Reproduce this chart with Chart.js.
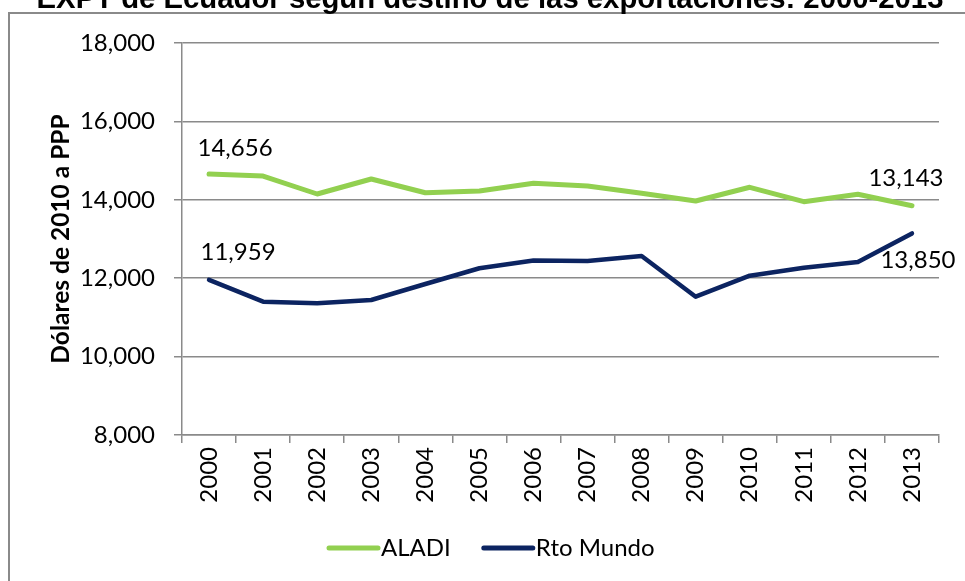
<!DOCTYPE html>
<html>
<head>
<meta charset="utf-8">
<script src="https://cdn.jsdelivr.net/npm/chart.js@4"></script>
<style>
  html, body { margin: 0; padding: 0; background: #fff; overflow: hidden; }
  #wrap { position: absolute; left: 0; top: 0; width: 965px; height: 581px; }
</style>
</head>
<body>
<div id="wrap"><canvas id="c" width="965" height="581"></canvas></div>
<script>
const years = ['2000','2001','2002','2003','2004','2005','2006','2007','2008','2009','2010','2011','2012','2013'];
const aladi = [14656, 14607, 14148, 14531, 14181, 14224, 14421, 14352, 14166, 13969, 14319, 13952, 14140, 13850];
const rtoMundo = [11959, 11401, 11360, 11444, 11852, 12253, 12449, 12439, 12566, 11528, 12064, 12268, 12413, 13143];
const aladiLabels = ['14,656', null, null, null, null, null, null, null, null, null, null, null, null, '13,143'];
const rtoMundoLabels = ['11,959', null, null, null, null, null, null, null, null, null, null, null, null, '13,850'];
const yTicks = [8000, 10000, 12000, 14000, 16000, 18000];
const titleText = 'EXPT de Ecuador según destino de las exportaciones: 2000-2013';
const yTitle = 'Dólares de 2010 a PPP';

const FONT = 'Lato, "Open Sans", sans-serif';

const borderPlugin = {
  id: 'outerBorder',
  beforeDraw(chart) {
    const ctx = chart.ctx;
    ctx.save();
    ctx.strokeStyle = '#8a8a8a';
    ctx.lineWidth = 2;
    ctx.strokeRect(9, 13, 1000, 1000);
    ctx.restore();
  }
};

const titlePlugin = {
  id: 'cutTitle',
  afterDraw(chart, args, opts) {
    const ctx = chart.ctx;
    ctx.save();
    ctx.font = opts.font;
    ctx.fillStyle = '#000';
    ctx.textAlign = 'center';
    ctx.textBaseline = 'alphabetic';
    ctx.fillText(opts.text, opts.x, opts.y);
    ctx.restore();
  }
};

const labelPlugin = {
  id: 'pointLabels',
  afterDatasetsDraw(chart, args, opts) {
    const ctx = chart.ctx;
    ctx.save();
    ctx.font = opts.font;
    ctx.fillStyle = '#000';
    ctx.textAlign = 'center';
    ctx.textBaseline = 'middle';
    opts.items.forEach(it => {
      const meta = chart.getDatasetMeta(it.dataset);
      const texts = chart.data.datasets[it.dataset].pointText;
      const el = meta.data[it.index];
      const t = texts[it.index];
      if (el && t) ctx.fillText(t, el.x + it.dx, el.y + it.dy);
    });
    ctx.restore();
  }
};

const legendPlugin = {
  id: 'lineLegend',
  afterDraw(chart, args, opts) {
    const ctx = chart.ctx;
    ctx.save();
    ctx.font = opts.font;
    ctx.textAlign = 'left';
    ctx.textBaseline = 'middle';
    let x = opts.x;
    const y = opts.y;
    chart.data.datasets.forEach(ds => {
      ctx.strokeStyle = ds.borderColor;
      ctx.lineWidth = 5;
      ctx.lineCap = 'round';
      ctx.beginPath();
      ctx.moveTo(x + 2, y);
      ctx.lineTo(x + opts.lineLen - 2, y);
      ctx.stroke();
      ctx.fillStyle = '#000';
      ctx.fillText(ds.label, x + opts.lineLen + opts.gap, y);
      x += opts.lineLen + opts.gap + ctx.measureText(ds.label).width + opts.spacing;
    });
    ctx.restore();
  }
};

new Chart(document.getElementById('c'), {
  type: 'line',
  data: {
    labels: years,
    datasets: [
      { label: 'ALADI', data: aladi, pointText: aladiLabels, borderColor: '#92D050', backgroundColor: '#92D050',
        borderWidth: 5, pointRadius: 0, tension: 0, borderJoinStyle: 'round', borderCapStyle: 'round' },
      { label: 'Rto Mundo', data: rtoMundo, pointText: rtoMundoLabels, borderColor: '#0C2461', backgroundColor: '#0C2461',
        borderWidth: 4.5, pointRadius: 0, tension: 0, borderJoinStyle: 'round', borderCapStyle: 'round' }
    ]
  },
  options: {
    responsive: false,
    animation: false,
    devicePixelRatio: 1,
    layout: { padding: { top: 43, left: 0, right: 26, bottom: 52 } },
    plugins: {
      title: { display: false },
      legend: { display: false },
      tooltip: { enabled: false },
      cutTitle: { text: titleText, font: 'bold 29.3px "Liberation Sans", Arial, sans-serif', x: 490, y: 7.5 },
      lineLegend: { font: '24px Lato, "Open Sans", sans-serif', x: 327, y: 548, lineLen: 53, gap: 1, spacing: 31 },
      pointLabels: {
        font: '24px Lato, "Open Sans", sans-serif',
        items: [
          { dataset: 0, index: 0, dx: 26, dy: -26 },
          { dataset: 0, index: 13, dx: -6, dy: -27 },
          { dataset: 1, index: 0, dx: 29, dy: -28 },
          { dataset: 1, index: 13, dx: 6, dy: 27 }
        ]
      }
    },
    scales: {
      x: {
        offset: true,
        grid: { offset: true, drawOnChartArea: false, drawTicks: true, tickLength: 8, color: '#8a8a8a', lineWidth: 1.5 },
        border: { display: true, color: '#8a8a8a', width: 1.5 },
        ticks: { color: '#000', font: { family: FONT, size: 24 }, minRotation: 90, maxRotation: 90, autoSkip: false, padding: 4 },
        afterFit(scale) { scale.height = 94; }
      },
      y: {
        min: 8000, max: 18000,
        afterBuildTicks(scale) { scale.ticks = yTicks.map(v => ({ value: v })); },
        grid: { drawTicks: true, tickLength: 8, color: '#8a8a8a', lineWidth: 1.5 },
        border: { display: true, color: '#8a8a8a', width: 1.5 },
        ticks: { color: '#000', font: { family: FONT, size: 24 }, padding: 19 },
        title: { display: true, text: yTitle, color: '#000', font: { family: FONT, size: 24.5, weight: 'bold' }, padding: { top: 46, bottom: 0 } },
        afterFit(scale) { scale.width = 182; }
      }
    }
  },
  plugins: [borderPlugin, labelPlugin, titlePlugin, legendPlugin]
});
</script>
</body>
</html>
